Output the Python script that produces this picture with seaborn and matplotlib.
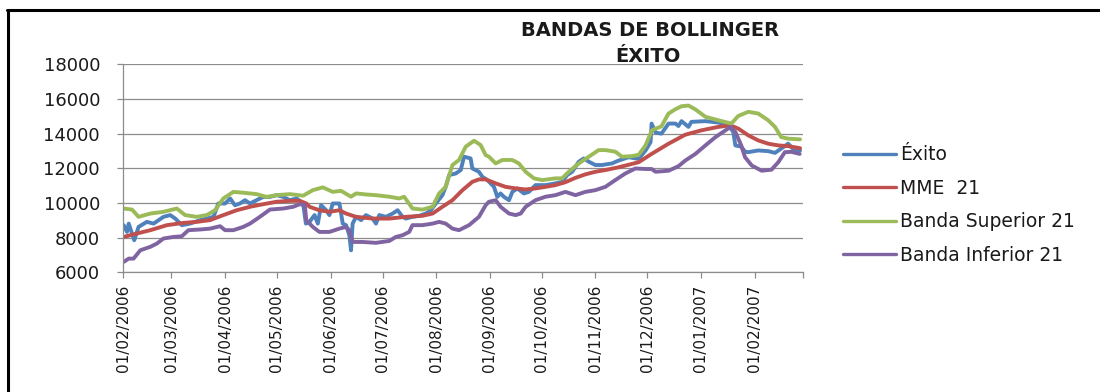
import pandas as pd
import matplotlib
matplotlib.use("Agg")
import matplotlib.pyplot as plt
from matplotlib.lines import Line2D
import seaborn as sns

# Fecha de inicio de la serie; los días se cuentan desde aquí
inicio = "2006-02-01"

dias_exito = [0.4, 2.3, 3.3, 6.5, 9.0, 13.8, 17.7, 23.4, 27.3, 30.2, 34.0, 38.8, 44.6, 48.4,
              52.3, 55.1, 59.0, 61.9, 64.7, 67.6, 70.5, 73.4, 77.2, 81.1, 84.9, 88.8, 92.6,
              96.4, 100.3, 104.1, 105.7, 107.8, 110.7, 112.6, 114.5, 117.4, 119.3, 121.2,
              125.1, 127.0, 128.9, 130.8, 131.8, 132.7, 134.7, 137.6, 140.4, 144.3, 146.2,
              148.1, 152.0, 155.8, 158.7, 161.6, 163.5, 167.3, 171.2, 175.0, 177.9, 180.8,
              184.6, 186.5, 188.5, 192.3, 195.2, 197.1, 200.9, 201.9, 205.7, 207.7, 210.6,
              214.4, 216.3, 218.2, 220.2, 223.1, 225.0, 227.9, 231.7, 234.6, 238.4, 244.2,
              249.9, 253.8, 256.7, 259.6, 263.4, 266.3, 269.2, 273.0, 276.8, 282.6, 286.5,
              292.2, 298.0, 302.0, 304.9, 305.5, 307.8, 311.2, 315.3, 319.3, 321.0, 322.8,
              326.8, 328.5, 336.6, 344.1, 349.9, 352.7, 353.9, 357.3, 359.5, 361.4, 367.1,
              372.9, 376.8, 381.6, 384.4, 387.3, 391.3]
exito = [8720, 8330, 8810, 7850, 8620, 8910, 8810, 9200, 9300, 9100, 8720, 8810, 9010, 9100,
         9200, 9970, 9970, 10260, 9870, 9970, 10160, 9970, 10160, 10350, 10350, 10450, 10350,
         10160, 10260, 9970, 8810, 8910, 9300, 8810, 9870, 9580, 9300, 9970,
         9970, 8810, 8720, 8140, 7270, 8810, 9200, 9010, 9300, 9100, 8810,
         9300, 9200, 9390, 9580, 9200, 9100, 9200, 9260, 9390, 9580, 9970,
         10450, 10930, 11610, 11700, 11900, 12670, 12570, 11990, 11800, 11510, 11320,
         10930, 10350, 10550, 10350, 10160, 10640, 10840, 10550, 10640, 11030, 11030,
         11130, 11220, 11610, 11800, 12380, 12570, 12380, 12190, 12190, 12280, 12450,
         12640, 12540, 13030, 13510, 14580, 14060, 14000, 14580, 14580, 14440, 14720,
         14390, 14680, 14720, 14640, 14480, 14100, 13320, 13250, 12960, 12930, 13030,
         12990, 12890, 13220, 13420, 13120, 13030]

dias_mme = [0.4, 8.1, 15.8, 25.4, 35.0, 42.6, 50.3, 58.0, 65.7, 73.4, 81.1, 88.8, 96.4, 102.2,
            106.0, 107.8, 113.5, 119.3, 125.1, 128.9, 134.7, 144.3, 153.9, 163.5, 173.1,
            178.9, 184.6, 190.4, 196.2, 201.9, 205.7, 209.6, 215.4, 221.1, 226.9, 232.7,
            238.4, 244.2, 249.9, 255.7, 261.5, 267.2, 273.0, 278.8, 286.5, 298.0, 305.5,
            315.3, 325.0, 334.3, 344.1, 351.0, 355.6, 361.4, 367.1, 372.9, 378.7, 384.4, 391.3]
mme_21 = [8040, 8240, 8430, 8720, 8850, 8910, 9010, 9300, 9580, 9780, 9930, 10070, 10120, 10120,
          9970, 9780, 9580, 9490, 9580, 9390, 9200, 9100, 9100, 9200, 9260,
          9390, 9780, 10160, 10740, 11220, 11360, 11360, 11130, 10930, 10840, 10780,
          10840, 10930, 11030, 11200, 11450, 11650, 11800, 11900, 12060, 12350, 12830,
          13420, 13940, 14190, 14390, 14480, 14290, 13900, 13610, 13420, 13320, 13280, 13160]

dias_superior = [0.4, 5.2, 9.0, 15.8, 23.4, 31.1, 35.9, 42.6, 48.4, 53.2, 58.0, 63.8, 69.5,
                 77.2, 83.0, 88.8, 96.4, 104.1, 109.7, 115.5, 121.2, 126.0, 131.8, 134.7,
                 140.4, 146.2, 153.9, 159.6, 162.5, 167.3, 173.1, 178.9, 182.7, 186.5, 190.4,
                 194.2, 198.1, 202.9, 206.7, 209.6, 211.5, 215.4, 219.2, 225.0, 228.8, 232.7,
                 237.5, 242.3, 249.9, 253.8, 257.6, 263.4, 269.2, 274.9, 278.8, 284.5, 288.4,
                 294.0, 298.0, 302.0, 305.6, 308.2, 311.2, 315.2, 319.1, 322.8, 326.8, 330.8,
                 336.6, 344.1, 351.6, 355.6, 361.4, 367.1, 372.9, 376.8, 380.4, 384.4, 391.3]
banda_superior = [9680, 9620, 9200, 9390, 9490, 9680, 9300, 9200, 9300, 9580, 10260, 10640, 10590,
                  10510, 10350, 10450, 10510, 10420, 10740, 10900, 10640, 10700, 10360, 10550,
                  10490, 10450, 10360, 10260, 10360, 9680, 9620, 9780, 10550, 10930, 12190,
                  12480, 13250, 13590, 13340, 12760, 12670, 12280, 12480, 12480, 12280, 11800,
                  11420, 11320, 11420, 11420, 11800, 12280, 12670, 13050, 13050, 12960, 12670,
                  12700, 12780, 13320, 14190, 14300, 14420, 15150, 15400, 15580, 15620, 15400,
                  14970, 14770, 14580, 15020, 15260, 15160, 14770, 14390, 13800, 13710, 13670]

dias_inferior = [0.4, 3.3, 6.1, 10.0, 15.8, 19.6, 23.4, 29.2, 34.0, 37.8, 44.6, 50.3, 56.1,
                 59.0, 63.8, 69.5, 73.4, 79.1, 84.9, 92.6, 98.4, 102.2, 105.1, 105.9, 109.7,
                 113.5, 119.3, 125.1, 128.9, 130.8, 132.7, 138.5, 146.2, 153.9, 157.7, 161.6,
                 165.4, 167.3, 173.1, 178.9, 182.7, 186.5, 190.4, 194.2, 200.0, 205.7, 209.6,
                 211.5, 215.4, 218.2, 223.1, 226.9, 229.8, 232.7, 238.4, 244.2, 249.9, 255.7,
                 261.5, 267.2, 273.0, 278.8, 284.5, 290.3, 296.1, 302.0, 305.5, 307.8, 315.3,
                 321.0, 325.0, 330.8, 336.6, 342.4, 348.2, 351.0, 353.9, 357.3, 359.5, 363.4,
                 369.1, 374.8, 378.7, 382.5, 386.3, 391.1]
banda_inferior = [6600, 6790, 6790, 7270, 7470, 7660, 7950, 8040, 8080, 8430, 8470, 8520, 8660,
                  8430, 8430, 8620, 8810, 9200, 9620, 9680, 9780, 9930, 9870, 9010, 8620,
                  8330, 8330, 8520, 8620, 8430, 7750, 7750, 7700, 7810, 8040, 8140,
                  8330, 8720, 8720, 8810, 8910, 8810, 8520, 8430, 8720, 9200, 9870,
                  10070, 10160, 9780, 9390, 9300, 9390, 9780, 10160, 10360, 10450, 10640,
                  10450, 10640, 10740, 10930, 11320, 11700, 11990, 11960, 11960, 11800, 11860,
                  12120, 12450, 12830, 13320, 13800, 14190, 14390, 14100, 13320, 12640, 12160,
                  11860, 11920, 12350, 12930, 12950, 12830]

series = ["Éxito", "MME  21", "Banda Superior 21", "Banda Inferior 21"]
colores = ["#4F81BD", "#C0504D", "#9BBB59", "#8064A2"]

base = pd.Timestamp(inicio)
tablas = []
for nombre, dias, valores in zip(series,
                                 [dias_exito, dias_mme, dias_superior, dias_inferior],
                                 [exito, mme_21, banda_superior, banda_inferior]):
    tablas.append(pd.DataFrame({
        "fecha": base + pd.to_timedelta(dias, unit="D"),
        "valor": valores,
        "serie": nombre,
    }))
datos = pd.concat(tablas, ignore_index=True)

sns.set_style("white")
plt.rcParams["font.family"] = ["DejaVu Sans"]

W, H = 1100, 392
fig = plt.figure(figsize=(W / 100, H / 100), dpi=100)
ax = fig.add_axes([123 / W, 1 - 272.3 / H, 680 / W, 208 / H])

sns.lineplot(data=datos, x="fecha", y="valor", hue="serie", hue_order=series,
             palette=colores, linewidth=2.8, estimator=None, errorbar=None,
             legend=False, ax=ax)
for ln in ax.lines:
    ln.set_solid_joinstyle("round")
    ln.set_solid_capstyle("round")

gris = "#8c8c8c"
ax.set_ylim(6000, 18000)
ax.set_yticks(range(6000, 18001, 2000))
ax.yaxis.grid(True, color=gris, linewidth=0.9)
ax.xaxis.grid(False)
ax.set_axisbelow(True)

meses = pd.date_range("2006-02-01", "2007-03-01", freq="MS")
ax.set_xlim(meses[0], meses[-1])
ax.set_xticks(meses)
ax.set_xticklabels([m.strftime("%d/%m/%Y") for m in meses[:-1]] + [""])
ax.set_xlabel("")
ax.set_ylabel("")

for lado in ["top", "right"]:
    ax.spines[lado].set_visible(False)
for lado in ["left", "bottom"]:
    ax.spines[lado].set_color(gris)
    ax.spines[lado].set_linewidth(0.9)

ax.tick_params(axis="y", which="major", left=True, length=4.5, width=0.9, color=gris,
               pad=12, labelsize=13, labelcolor="#1a1a1a")
ax.tick_params(axis="x", which="major", bottom=True, length=4, width=0.9, color=gris,
               pad=5, labelsize=11, labelcolor="#1a1a1a", labelrotation=90)

fig.text(650 / W, 1 - 31 / H, "BANDAS DE BOLLINGER", ha="center", va="center",
         fontsize=14, fontweight="bold", color="#1a1a1a")
fig.text(648 / W, 1 - 56 / H, "ÉXITO", ha="center", va="center",
         fontsize=14, fontweight="bold", color="#1a1a1a")

manijas = [Line2D([0], [0], color=c, linewidth=2.4) for c in colores]
fig.legend(manijas, series, loc="center left", bbox_to_anchor=(843 / W, 1 - 205 / H),
           frameon=False, fontsize=13.5, handlelength=2.8, handletextpad=0.25,
           labelspacing=0.78, borderpad=0, borderaxespad=0, labelcolor="#1a1a1a")

# Marco del gráfico (bordes superior e izquierdo)
fig.add_artist(Line2D([7 / W, 1], [1 - 10 / H, 1 - 10 / H], color="black",
                      linewidth=2.2, transform=fig.transFigure))
fig.add_artist(Line2D([8 / W, 8 / W], [0, 1 - 10 / H], color="black",
                      linewidth=2.2, transform=fig.transFigure))

fig.savefig("out.png", dpi=100, facecolor="white")
